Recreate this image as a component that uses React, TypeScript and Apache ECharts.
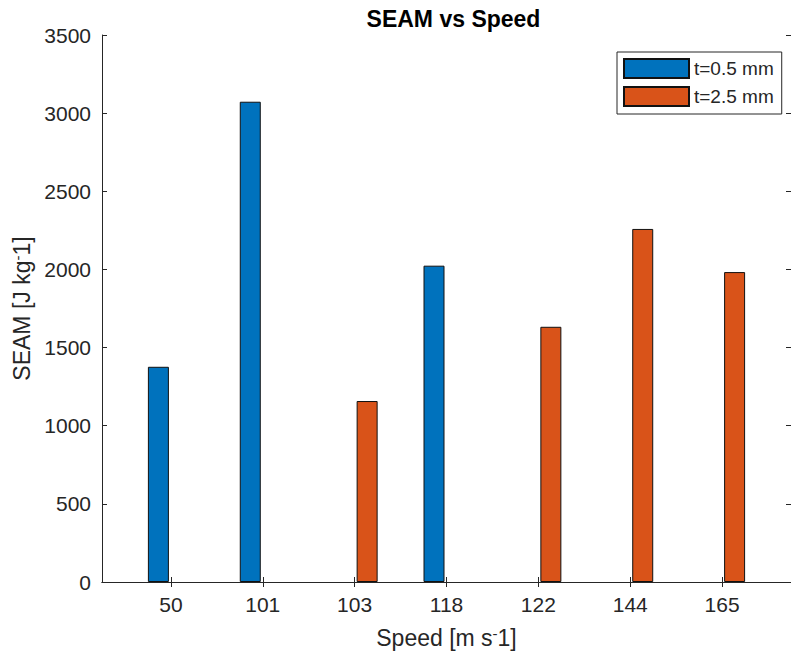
import React, { useEffect, useRef } from "react";
import * as echarts from "echarts";

const categories = ["50", "101", "103", "118", "122", "144", "165"];
const thinValues = [1377, 3073, 0, 2024, 0, 0, 0];
const thickValues = [0, 0, 1158, 0, 1633, 2259, 1983];
const seriesNames = ["t=0.5 mm", "t=2.5 mm"];
const yTicks = { min: 0, max: 3500, interval: 500 };

const FONT = "'Liberation Sans', Arial, Helvetica, sans-serif";
const TXT = "#262626";

function toPoints(vals: number[]) {
  return vals
    .map((v, i) => (v ? [i + 1, v] : null))
    .filter((p) => p !== null) as number[][];
}

export default function App() {
  const ref = useRef<HTMLDivElement>(null);
  useEffect(() => {
    if (!ref.current) return;
    const chart = echarts.init(ref.current, undefined, { renderer: "svg" });
    const tickPositions = categories.map((_, i) => i + 1);
    const xCommon = {
      type: "value" as const,
      min: 0.25,
      max: 7.75,
      splitLine: { show: false },
      axisLine: { show: true, lineStyle: { color: TXT, width: 1 } },
      axisTick: {
        show: true,
        inside: true,
        length: 5,
        customValues: tickPositions,
        lineStyle: { color: TXT },
      },
    };
    const yCommon = {
      type: "value" as const,
      min: yTicks.min,
      max: yTicks.max,
      interval: yTicks.interval,
      splitLine: { show: false },
      axisLine: { show: true, lineStyle: { color: TXT, width: 1 } },
      axisTick: { show: true, inside: true, length: 5, lineStyle: { color: TXT } },
    };
    const nameStyle = {
      fontFamily: FONT,
      fontSize: 23,
      color: TXT,
      rich: {
        sup: { fontSize: 15, verticalAlign: "top", color: TXT, padding: [0, 0, 8, 0] },
      },
    };
    chart.setOption({
      animation: false,
      backgroundColor: "#ffffff",
      textStyle: { fontFamily: FONT },
      title: {
        text: "SEAM vs Speed",
        left: 448.5,
        textAlign: "center",
        top: 2,
        textStyle: { fontFamily: FONT, fontSize: 23, fontWeight: "bold", color: "#000" },
      },
      legend: {
        orient: "vertical",
        left: 617,
        top: 52,
        padding: [6, 8, 7, 6],
        itemGap: 7,
        itemWidth: 65,
        itemHeight: 19,
        borderColor: TXT,
        borderWidth: 1,
        backgroundColor: "#fff",
        icon: "rect",
        textStyle: { fontFamily: FONT, fontSize: 19, color: TXT },
        data: seriesNames,
      },
      grid: { left: 102, top: 35, right: -4.4, bottom: 77 },
      xAxis: [
        {
          ...xCommon,
          position: "bottom",
          name: "Speed [m s{sup|-}1]",
          nameLocation: "middle",
          nameGap: 44,
          nameTextStyle: nameStyle,
          axisLabel: {
            show: true,
            customValues: tickPositions,
            margin: 12,
            fontFamily: FONT,
            fontSize: 21,
            color: TXT,
            formatter: (v: number) => categories[Math.round(v) - 1] ?? "",
          },
        },
        {
          ...xCommon,
          position: "top",
          axisLabel: { show: false },
        },
      ],
      yAxis: [
        {
          ...yCommon,
          position: "left",
          name: "SEAM [J kg{sup|-}1]",
          nameLocation: "middle",
          nameGap: 68,
          nameTextStyle: nameStyle,
          axisLabel: {
            margin: 11,
            fontFamily: FONT,
            fontSize: 21,
            color: TXT,
            formatter: (v: number) => String(v),
          },
        },
        {
          ...yCommon,
          position: "right",
          axisLabel: { show: false },
        },
      ],
      series: [
        {
          name: seriesNames[0],
          type: "bar",
          xAxisIndex: 0,
          yAxisIndex: 0,
          barWidth: 21,
          barGap: "19%",
          itemStyle: { color: "#0072BD", borderColor: "#111", borderWidth: 1 },
          data: toPoints(thinValues),
        },
        {
          name: seriesNames[1],
          type: "bar",
          xAxisIndex: 0,
          yAxisIndex: 0,
          barWidth: 21,
          barGap: "19%",
          itemStyle: { color: "#D95319", borderColor: "#111", borderWidth: 1 },
          data: toPoints(thickValues),
        },
      ],
    });
    return () => chart.dispose();
  }, []);
  return (
    <div
      ref={ref}
      style={{ position: "fixed", left: 0, top: 0, width: 791, height: 659, background: "#fff" }}
    />
  );
}
